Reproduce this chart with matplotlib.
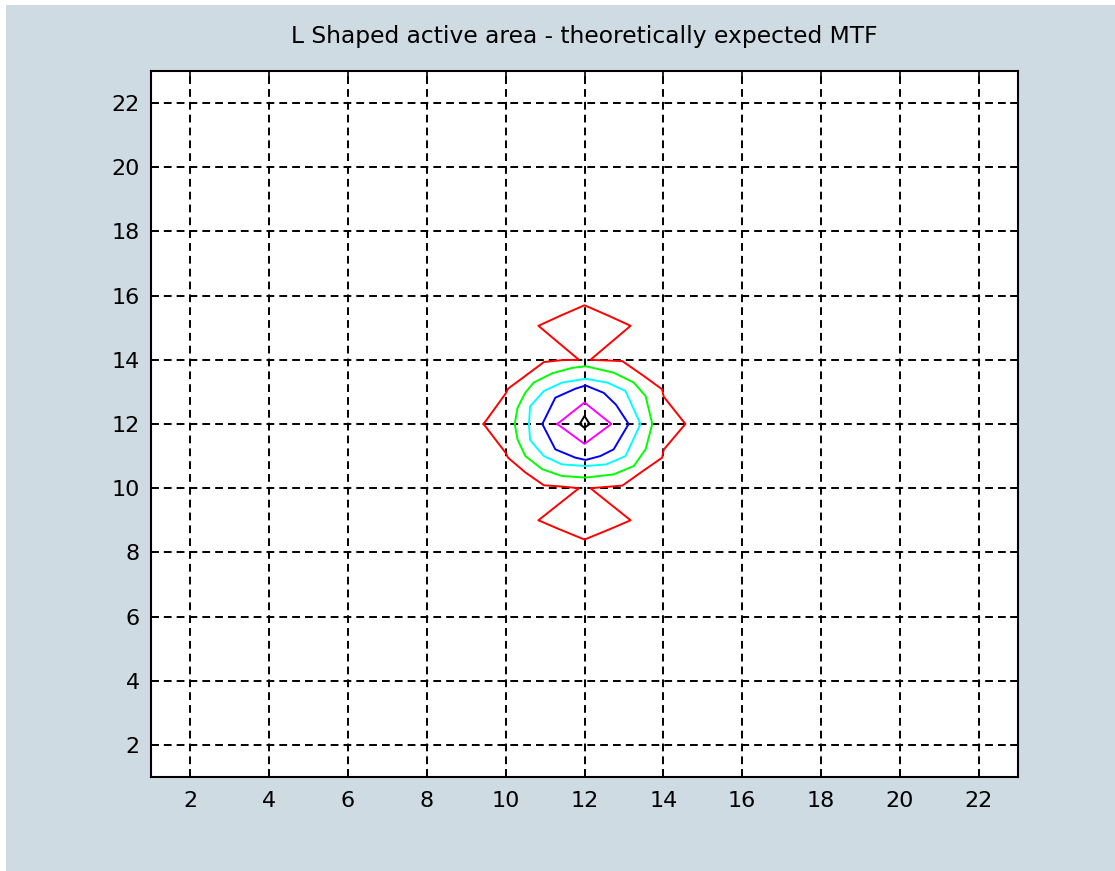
import matplotlib
matplotlib.use("Agg")
import matplotlib.pyplot as plt
from matplotlib.patches import Rectangle

# contour lines of the MTF (data units)
red_x = [9.44, 10.0, 10.06, 10.5, 10.97, 11.43, 11.86, 10.83, 11.4, 12.0, 12.6, 13.17,
         12.15, 12.96, 13.5, 13.97, 14.01, 14.56, 14.01, 13.97, 13.5, 12.96, 12.15,
         13.17, 12.6, 12.0, 11.4, 10.83, 11.86, 11.43, 10.97, 10.5, 10.06, 10.0, 9.44]
red_y = [12.0, 12.95, 13.1, 13.5, 13.93, 13.99, 14.0, 15.06, 15.38, 15.7, 15.38, 15.06,
         14.0, 13.96, 13.5, 13.08, 12.85, 12.0, 11.2, 10.95, 10.55, 10.08, 10.0,
         9.0, 8.7, 8.4, 8.7, 9.0, 10.0, 10.05, 10.09, 10.49, 10.95, 11.1, 12.0]

green_x = [10.23, 10.3, 10.5, 10.71, 11.18, 11.69, 12.03, 12.74, 13.25, 13.55, 13.72,
           13.55, 13.25, 12.74, 12.03, 11.43, 10.93, 10.5, 10.3, 10.23]
green_y = [12.0, 12.5, 12.98, 13.29, 13.58, 13.75, 13.8, 13.6, 13.29, 12.87, 12.0,
           11.21, 10.69, 10.43, 10.33, 10.38, 10.59, 11.0, 11.52, 12.0]

cyan_x = [10.59, 10.62, 10.97, 11.43, 12.03, 12.58, 13.04, 13.42, 13.04, 12.55, 12.03,
          11.43, 10.97, 10.62, 10.59]
cyan_y = [12.0, 12.55, 13.03, 13.29, 13.41, 13.29, 13.03, 12.0, 11.0, 10.74, 10.69,
          10.74, 11.0, 11.5, 12.0]

blue_x = [10.93, 11.26, 11.77, 12.03, 12.49, 12.8, 13.12, 12.74, 12.4, 12.03, 11.77,
          11.26, 10.93]
blue_y = [12.0, 12.82, 13.1, 13.2, 12.97, 12.6, 12.0, 11.21, 11.0, 10.88, 10.95,
          11.21, 12.0]

magenta_x = [11.31, 12.0, 12.68, 12.0, 11.31]
magenta_y = [12.0, 12.67, 12.0, 11.38, 12.0]

black_x = [11.88, 12.0, 12.13, 12.0, 11.88]
black_y = [12.0, 12.25, 12.0, 11.88, 12.0]

ticks = [2, 4, 6, 8, 10, 12, 14, 16, 18, 20, 22]
titulo = "L Shaped active area - theoretically expected MTF"

contornos = [
    (red_x, red_y, "#ff0000"),
    (green_x, green_y, "#00ff00"),
    (cyan_x, cyan_y, "#00ffff"),
    (blue_x, blue_y, "#0000ff"),
    (magenta_x, magenta_y, "#ff00ff"),
    (black_x, black_y, "#000000"),
]

fondo = "#cedbe2"

fig = plt.figure(figsize=(11.15, 8.71), dpi=100, facecolor="white")
# blue-grey window background with a thin white strip top/left
fig.patches.append(Rectangle((6 / 1115, 0), 1, 866 / 871, transform=fig.transFigure,
                             facecolor=fondo, edgecolor="none", zorder=-10))

ax = fig.add_axes([151 / 1115, 94 / 871, 867 / 1115, 706 / 871])
ax.set_facecolor("white")

for xs, ys, c in contornos:
    ax.plot(xs, ys, color=c, linewidth=1.4, zorder=3)

ax.set_xlim(1, 23)
ax.set_ylim(1, 23)
ax.set_xticks(ticks)
ax.set_yticks(ticks)

ax.grid(True, color="black", linestyle=(0, (4, 2.6)), linewidth=1.4)
ax.set_axisbelow(True)

ax.tick_params(direction="in", length=6, width=1.2, top=True, right=True,
               labelsize=16, colors="black")
ax.tick_params(axis="x", pad=10)
ax.tick_params(axis="y", pad=8)
for s in ax.spines.values():
    s.set_linewidth(1.5)
    s.set_color("black")

ax.set_title(titulo, fontsize=16.8, pad=20)

fig.savefig("out.png", dpi=100, facecolor=fig.get_facecolor())
